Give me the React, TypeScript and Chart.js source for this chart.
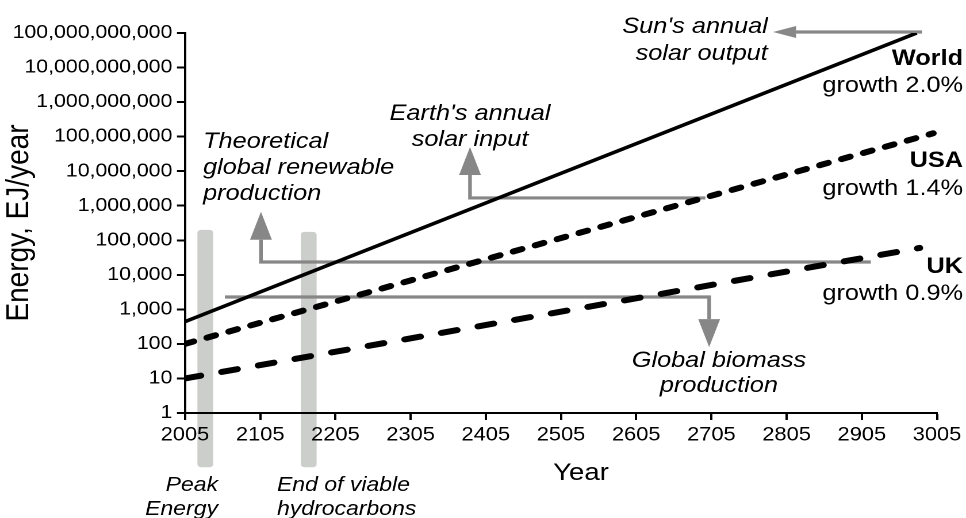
import React, { useEffect, useRef } from 'react';
import { Chart, registerables } from 'chart.js';

Chart.register(...registerables);

const FONT = '"Liberation Sans", Arial, Helvetica, sans-serif';

// ---- axes ----
const xTickYears = [2005, 2105, 2205, 2305, 2405, 2505, 2605, 2705, 2805, 2905, 3005];
const yTickValues = [1, 10, 100, 1e3, 1e4, 1e5, 1e6, 1e7, 1e8, 1e9, 1e10, 1e11];
const xTitle = 'Year';
const yTitle = 'Energy, EJ/year';
const xTitleYear = 2531.6;
const xTitleValue = 1.15e-2;

// ---- series ----
const seriesNames = ['World', 'USA', 'UK'];
const growthLabels = ['growth 2.0%', 'growth 1.4%', 'growth 0.9%'];
const worldYears = [2005, 2978];
const worldValues = [440, 1.0e11];
const usaYears = [2005, 3000];
const usaValues = [100, 1.25e8];
const ukYears = [2005, 2982];
const ukValues = [10, 6.0e4];
const seriesLabelYear = 3039.6;
const seriesNameValues = [1.19e10, 1.32e7, 1.13e4];
const growthLabelValues = [1.96e9, 2.05e6, 1.87e3];

// ---- grey bands ----
const bandLabels = [['Peak', 'Energy'], ['End of viable', 'hydrocarbons']];
const bandStartYears = [2021.5, 2159];
const bandEndYears = [2042.5, 2180];
const bandTopValues = [2.0e5, 1.75e5];
const bandBottomValue = 0.027;
const bandLabelYears = [2048.9, 2127.3];
const bandLabelValues = [5.5e-3, 1.1e-3];

// ---- arrows (year, value) ----
const arrowPaths: number[][][] = [
  [[2985, 1.07e11], [2787, 1.07e11]],
  [[2697, 1.68e6], [2384, 1.68e6], [2384, 5.0e7]],
  [[2917, 2.35e4], [2106, 2.35e4], [2106, 6.7e5]],
  [[2058, 2.28e3], [2702, 2.28e3], [2702, 81]],
];

// ---- notes ----
const noteLines = [
  ["Sun's annual", 'solar output'],
  ["Earth's annual", 'solar input'],
  ['Theoretical', 'global renewable', 'production'],
  ['Global biomass', 'production'],
];
const noteYears = [2780, 2384, 2029, 2715];
const noteValues = [
  [1.0e11, 1.66e10],
  [3.03e8, 5.36e7],
  [4.69e7, 8.3e6, 1.47e6],
  [21.5, 4.05],
];
const noteAligns: CanvasTextAlign[] = ['right', 'center', 'left', 'center'];

const LOGICAL_W = 840;
const H = 518;
const DISPLAY_W = 966;
const CHART_LEFT = 185 / (DISPLAY_W / LOGICAL_W);
const CHART_RIGHT = 937 / (DISPLAY_W / LOGICAL_W);

const annotationPlugin = {
  id: 'energyAnnotations',
  beforeDraw(chart: any) {
    const { ctx, scales } = chart;
    const xs = scales.x;
    const ys = scales.y;
    ctx.save();
    ctx.fillStyle = '#cccecb';
    for (let i = 0; i < bandStartYears.length; i++) {
      const x0 = xs.getPixelForValue(bandStartYears[i]);
      const x1 = xs.getPixelForValue(bandEndYears[i]);
      const y0 = ys.getPixelForValue(bandTopValues[i]);
      const y1 = ys.getPixelForValue(bandBottomValue);
      ctx.beginPath();
      if (ctx.roundRect) ctx.roundRect(x0, y0, x1 - x0, y1 - y0, 3);
      else ctx.rect(x0, y0, x1 - x0, y1 - y0);
      ctx.fill();
    }
    ctx.restore();
  },
  beforeDatasetsDraw(chart: any) {
    const { ctx, scales } = chart;
    const xs = scales.x;
    const ys = scales.y;
    ctx.save();
    ctx.strokeStyle = '#878787';
    ctx.fillStyle = '#878787';
    ctx.lineWidth = 3.2;
    ctx.lineJoin = 'miter';
    ctx.lineCap = 'butt';
    for (const path of arrowPaths) {
      const pts = path.map(([yr, v]) => [xs.getPixelForValue(yr), ys.getPixelForValue(v)]);
      const n = pts.length;
      const [ax, ay] = pts[n - 2];
      const [bx, by] = pts[n - 1];
      const horizontal = Math.abs(by - ay) < Math.abs(bx - ax);
      const len = horizontal ? 20 : 28;
      const half = horizontal ? 6 : 9.5;
      const dx = Math.sign(bx - ax);
      const dy = Math.sign(by - ay);
      const base = horizontal ? [bx - dx * len, by] : [bx, by - dy * len];
      ctx.beginPath();
      ctx.moveTo(pts[0][0], pts[0][1]);
      for (let i = 1; i < n - 1; i++) ctx.lineTo(pts[i][0], pts[i][1]);
      ctx.lineTo(base[0], base[1]);
      ctx.stroke();
      ctx.beginPath();
      ctx.moveTo(bx, by);
      if (horizontal) {
        ctx.lineTo(base[0], base[1] - half);
        ctx.lineTo(base[0], base[1] + half);
      } else {
        ctx.lineTo(base[0] - half, base[1]);
        ctx.lineTo(base[0] + half, base[1]);
      }
      ctx.closePath();
      ctx.fill();
    }
    ctx.restore();
  },
  afterDraw(chart: any) {
    const { ctx, scales } = chart;
    const xs = scales.x;
    const ys = scales.y;
    ctx.save();
    ctx.fillStyle = '#000';
    ctx.textBaseline = 'alphabetic';

    // notes
    ctx.font = `italic 22px ${FONT}`;
    noteLines.forEach((lines, i) => {
      ctx.textAlign = noteAligns[i];
      const x = xs.getPixelForValue(noteYears[i]);
      lines.forEach((line, j) => ctx.fillText(line, x, ys.getPixelForValue(noteValues[i][j])));
    });

    // band labels
    ctx.font = `italic 20px ${FONT}`;
    bandLabels.forEach((lines, i) => {
      ctx.textAlign = i === 0 ? 'right' : 'left';
      const x = xs.getPixelForValue(bandLabelYears[i]);
      lines.forEach((line, j) => ctx.fillText(line, x, ys.getPixelForValue(bandLabelValues[j])));
    });

    // series labels
    ctx.textAlign = 'right';
    const sx = xs.getPixelForValue(seriesLabelYear);
    seriesNames.forEach((name, i) => {
      ctx.font = `bold 22px ${FONT}`;
      ctx.fillText(name, sx, ys.getPixelForValue(seriesNameValues[i]));
      ctx.font = `22px ${FONT}`;
      ctx.fillText(growthLabels[i], sx, ys.getPixelForValue(growthLabelValues[i]));
    });

    // x title
    ctx.font = `24px ${FONT}`;
    ctx.textAlign = 'center';
    ctx.fillText(xTitle, xs.getPixelForValue(xTitleYear), ys.getPixelForValue(xTitleValue));
    ctx.restore();
  },
};

function toPoints(xsArr: number[], ysArr: number[]) {
  return xsArr.map((x, i) => ({ x, y: ysArr[i] }));
}

export default function App() {
  const ref = useRef<HTMLCanvasElement>(null);
  useEffect(() => {
    if (!ref.current) return;
    Chart.defaults.font.family = FONT;
    const chart = new Chart(ref.current, {
      type: 'line',
      data: {
        datasets: [
          {
            label: seriesNames[0],
            data: toPoints(worldYears, worldValues),
            borderColor: '#000',
            borderWidth: 3.5,
            pointRadius: 0,
            fill: false,
          },
          {
            label: seriesNames[1],
            data: toPoints(usaYears, usaValues),
            borderColor: '#000',
            borderWidth: 6,
            borderDash: [8, 12],
            borderCapStyle: 'round',
            pointRadius: 0,
            fill: false,
          },
          {
            label: seriesNames[2],
            data: toPoints(ukYears, ukValues),
            borderColor: '#000',
            borderWidth: 6,
            borderDash: [14, 18.5],
            borderCapStyle: 'round',
            pointRadius: 0,
            fill: false,
          },
        ],
      },
      options: {
        responsive: false,
        devicePixelRatio: 2,
        animation: false,
        layout: { padding: { top: 33, right: LOGICAL_W - CHART_RIGHT, bottom: 0, left: 0 } },
        plugins: { legend: { display: false }, tooltip: { enabled: false }, title: { display: false } },
        scales: {
          x: {
            type: 'linear',
            position: 'bottom',
            min: 2005,
            max: 3005,
            afterBuildTicks: (s: any) => {
              s.ticks = xTickYears.map((v) => ({ value: v }));
            },
            afterFit: (s: any) => {
              s.height = H - 413;
            },
            grid: { display: true, drawOnChartArea: false, drawTicks: true, tickLength: 7, tickColor: '#000', tickWidth: 2 },
            border: { display: true, color: '#000', width: 2 },
            ticks: {
              callback: (v: any) => String(v),
              color: '#000',
              font: { size: 19, family: FONT },
              padding: 4,
              maxRotation: 0,
              autoSkip: false,
            },
          },
          y: {
            type: 'logarithmic',
            position: 'left',
            min: 1,
            max: 1e11,
            afterBuildTicks: (s: any) => {
              s.ticks = yTickValues.map((v) => ({ value: v }));
            },
            afterFit: (s: any) => {
              s.width = CHART_LEFT;
            },
            grid: { display: true, drawOnChartArea: false, drawTicks: true, tickLength: 7, tickColor: '#000', tickWidth: 2 },
            border: { display: true, color: '#000', width: 2 },
            title: {
              display: true,
              text: yTitle,
              color: '#000',
              font: { size: 28, family: FONT },
              padding: { top: 0, bottom: 0 },
            },
            ticks: {
              callback: (v: any) => Number(v).toLocaleString('en-US'),
              color: '#000',
              font: { size: 18.5, family: FONT },
              padding: 4,
              autoSkip: false,
            },
          },
        },
      },
      plugins: [annotationPlugin],
    } as any);
    return () => chart.destroy();
  }, []);

  return (
    <div
      style={{
        position: 'absolute',
        left: 0,
        top: 0,
        width: DISPLAY_W,
        height: H,
        overflow: 'hidden',
        background: '#fff',
      }}
    >
      <canvas
        ref={ref}
        width={LOGICAL_W}
        height={H}
        style={{ width: `${DISPLAY_W}px`, height: `${H}px`, display: 'block' }}
      />
    </div>
  );
}
